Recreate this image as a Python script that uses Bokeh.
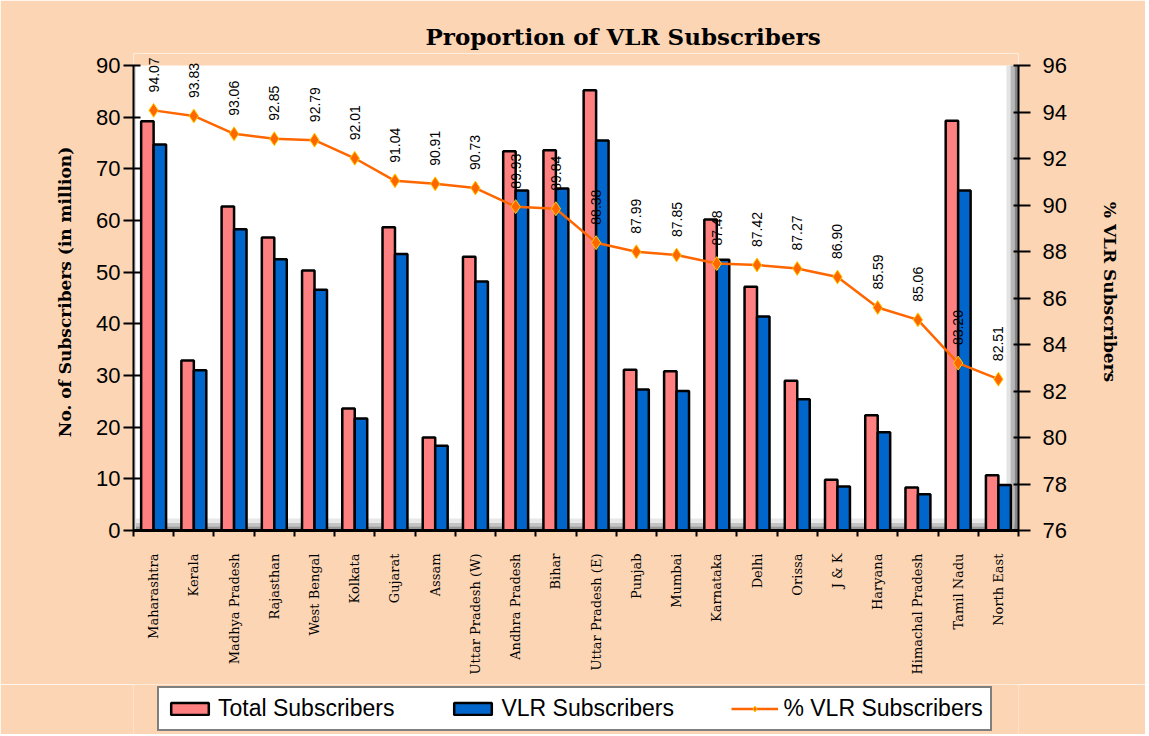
import math
from bokeh.plotting import figure
from bokeh.layouts import column
from bokeh.models import (Range1d, LinearAxis, FixedTicker, ColumnDataSource,
                          Legend, LegendItem, LabelSet)
from bokeh.core.properties import value
from bokeh.transform import dodge
from bokeh.embed import file_html
from bokeh.resources import INLINE

# ---------------- data ----------------
states = ["Maharashtra", "Kerala", "Madhya Pradesh", "Rajasthan", "West Bengal",
          "Kolkata", "Gujarat", "Assam", "Uttar Pradesh (W)", "Andhra Pradesh",
          "Bihar", "Uttar Pradesh (E)", "Punjab", "Mumbai", "Karnataka", "Delhi",
          "Orissa", "J & K", "Haryana", "Himachal Pradesh", "Tamil Nadu", "North East"]
total_subs = [79.2, 32.9, 62.7, 56.7, 50.3, 23.6, 58.7, 18.0, 53.0, 73.4, 73.6,
              85.2, 31.1, 30.8, 60.2, 47.2, 29.0, 9.8, 22.3, 8.3, 79.3, 10.7]
vlr_subs = [74.7, 31.0, 58.3, 52.5, 46.6, 21.7, 53.5, 16.4, 48.2, 65.8, 66.2,
            75.5, 27.3, 27.0, 52.4, 41.4, 25.4, 8.5, 19.0, 7.0, 65.8, 8.8]
pct_vlr = [94.07, 93.83, 93.06, 92.85, 92.79, 92.01, 91.04, 90.91, 90.73, 89.93, 89.84,
           88.38, 87.99, 87.85, 87.48, 87.42, 87.27, 86.90, 85.59, 85.06, 83.20, 82.51]
left_ticks = [0, 10, 20, 30, 40, 50, 60, 70, 80, 90]
right_ticks = [76, 78, 80, 82, 84, 86, 88, 90, 92, 94, 96]
series_names = ["Total Subscribers", "VLR Subscribers", "% VLR Subscribers"]
chart_title = "Proportion of VLR Subscribers"

PEACH = "#FCD5B4"
PINK = "#FF8080"
BLUE = "#0066CC"
ORANGE = "#FF6600"

# axes span 465 px; the frame is 12 px taller so value labels above 90 are not cut
L_MIN, L_MAX = 0, 90
R_MIN, R_MAX = 76, 96
AXIS_PX, EXTRA_PX = 465.0, 12.0
l_top = L_MAX + (L_MAX - L_MIN) * EXTRA_PX / AXIS_PX
r_top = R_MAX + (R_MAX - R_MIN) * EXTRA_PX / AXIS_PX

n = len(states)
idx = list(range(n))
src = ColumnDataSource(dict(x=idx, state=states, total=total_subs, vlr=vlr_subs,
                            pct=pct_vlr, lbl=[f"{v:.2f}" for v in pct_vlr]))

p = figure(width=1145, height=684, x_range=Range1d(-0.5, n - 0.5),
           y_range=Range1d(L_MIN, l_top), output_backend="svg", toolbar_location=None,
           min_border_left=133, min_border_right=127, min_border_top=53,
           min_border_bottom=154, background_fill_color="white",
           border_fill_color=PEACH, outline_line_color=None)
p.extra_y_ranges = {"pct": Range1d(R_MIN, r_top)}
p.xgrid.visible = False
p.ygrid.visible = False

# ---- title ----
p.title.text = chart_title
p.title.text_font = "DejaVu Serif"
p.title.text_font_style = "bold"
p.title.text_font_size = "23px"
p.title.text_color = "black"
p.title.align = "left"
p.title.offset = 292
p.title.standoff = 8

# peach strip above the plot wall, 3D-ish floor and side walls (decoration)
xl, xr = -0.5, n - 0.5
p.quad(left=[xl], right=[xr], bottom=[L_MAX], top=[l_top], fill_color=PEACH,
       line_color=None)
p.quad(left=[xl] * 3, right=[xr] * 3, bottom=[0, 0.8, 1.5], top=[0.8, 1.5, 2.3],
       fill_color=["#9A9A9A", "#C4C4C4", "#E8E8E8"], line_color=None)
p.quad(left=[xr - 0.3, xr - 0.2, xr - 0.1], right=[xr - 0.2, xr - 0.1, xr],
       bottom=[0] * 3, top=[L_MAX] * 3,
       fill_color=["#E4E4E4", "#B8B8B8", "#888888"], line_color=None)
p.quad(left=[xl], right=[xl + 0.06], bottom=[0], top=[L_MAX],
       fill_color="#D8D8D8", line_color=None)

bar_total_style = dict(fill_color=PINK, line_color="black", line_width=2.5)
bar_vlr_style = dict(fill_color=BLUE, line_color="black", line_width=2.5)
line_style = dict(line_color=ORANGE, line_width=2.5)
pt_style = dict(marker="diamond", size=14, fill_color=ORANGE, line_color="#FFCC00",
                line_width=1)

p.vbar(x=dodge("x", -0.155), top="total", width=0.31, source=src, **bar_total_style)
p.vbar(x=dodge("x", 0.155), top="vlr", width=0.31, source=src, **bar_vlr_style)
p.line(x="x", y="pct", source=src, y_range_name="pct", **line_style)
p.scatter(x="x", y="pct", source=src, y_range_name="pct", **pt_style)

labels = LabelSet(x="x", y="pct", text="lbl", source=src, y_range_name="pct",
                  angle=math.pi / 2, text_align="left", text_baseline="middle",
                  y_offset=18, text_font=value("Liberation Sans"),
                  text_font_size="14px", text_color="black")
p.add_layout(labels)

# ---- axes ----
xa = p.xaxis[0]
xa.ticker = FixedTicker(ticks=idx, minor_ticks=[i - 0.5 for i in range(n + 1)])
xa.major_label_overrides = {i: s for i, s in zip(idx, states)}
xa.major_label_orientation = math.pi / 2
xa.major_label_text_font = "DejaVu Serif"
xa.major_label_text_font_size = "13px"
xa.major_label_text_color = "black"
xa.major_label_standoff = 17
xa.major_tick_line_color = None
xa.major_tick_out = 0
xa.major_tick_in = 0
xa.minor_tick_line_color = "black"
xa.minor_tick_line_width = 2
xa.minor_tick_out = 6
xa.minor_tick_in = 0
xa.axis_line_color = "black"
xa.axis_line_width = 3

ya = p.yaxis[0]
ya.ticker = FixedTicker(ticks=left_ticks)
ya.bounds = (L_MIN, L_MAX)
ya.axis_label = "No. of Subscribers (in million)"
ya.axis_label_text_font = "DejaVu Serif"
ya.axis_label_text_font_style = "bold"
ya.axis_label_text_font_size = "17px"
ya.axis_label_text_color = "black"
ya.axis_label_standoff = 18
ya.major_label_text_font = "Liberation Sans"
ya.major_label_text_font_size = "22px"
ya.major_label_text_color = "black"
ya.major_label_standoff = 3
ya.major_tick_out = 10
ya.major_tick_in = 7
ya.major_tick_line_width = 2
ya.minor_tick_line_color = None
ya.axis_line_width = 2
ya.axis_line_color = "black"

ra = LinearAxis(y_range_name="pct", ticker=FixedTicker(ticks=right_ticks),
                bounds=(R_MIN, R_MAX))
ra.axis_label = "% VLR Subscribers"
ra.axis_label_text_font = "DejaVu Serif"
ra.axis_label_text_font_style = "bold"
ra.axis_label_text_font_size = "17px"
ra.axis_label_text_color = "black"
ra.axis_label_standoff = 30
ra.major_label_text_font = "Liberation Sans"
ra.major_label_text_font_size = "22px"
ra.major_label_text_color = "black"
ra.major_label_standoff = 12
ra.major_tick_out = 12
ra.major_tick_in = 5
ra.major_tick_line_width = 2
ra.minor_tick_line_color = None
ra.axis_line_width = 2
ra.axis_line_color = "black"
p.add_layout(ra, "right")

# ---- legend strip (separate small canvas under the chart) ----
# hidden copies of the series renderers supply the legend glyphs
q = figure(width=1145, height=50, x_range=Range1d(-0.5, n - 0.5),
           y_range=Range1d(L_MIN, L_MAX), output_backend="svg",
           toolbar_location=None, min_border_left=133, min_border_right=127,
           min_border_top=0, min_border_bottom=0, x_axis_location=None,
           y_axis_location=None, background_fill_color=PEACH,
           border_fill_color=PEACH, outline_line_color=None)
q.xgrid.visible = False
q.ygrid.visible = False
k1 = q.vbar(x="x", top="total", width=0.31, source=src, visible=False, **bar_total_style)
k2 = q.vbar(x="x", top="vlr", width=0.31, source=src, visible=False, **bar_vlr_style)
k3 = q.line(x="x", y="pct", source=src, visible=False, **line_style)
k4 = q.scatter(x="x", y="pct", source=src, visible=False, **pt_style)

legend = Legend(items=[LegendItem(label=series_names[0], renderers=[k1]),
                       LegendItem(label=series_names[1], renderers=[k2]),
                       LegendItem(label=series_names[2], renderers=[k3, k4])],
                orientation="horizontal", location=(24, 3),
                label_text_font="Liberation Sans", label_text_font_size="23px",
                label_text_color="black", glyph_width=47, glyph_height=15,
                label_standoff=5, label_width=175, spacing=55, padding=7,
                border_line_color="black", border_line_width=2,
                background_fill_color="white", background_fill_alpha=1.0,
                inactive_fill_alpha=0.0)
q.add_layout(legend)

layout = column(p, q, spacing=0)
open("out.html", "w").write(file_html(layout, INLINE))
